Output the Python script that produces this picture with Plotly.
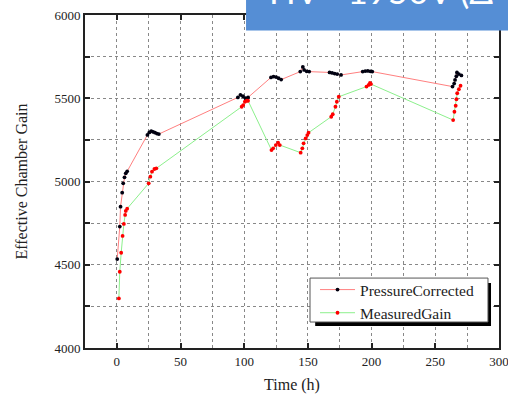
import plotly.graph_objects as go

# ---- data ----
t_corr = [0.3, 2.3, 2.9, 4.2, 5.0, 6.0, 7.0, 8.1,
          24, 25.5, 27, 28.5, 30, 31.5, 33,
          95, 97, 99, 101, 103,
          121, 123, 125, 127, 129,
          144, 146, 147, 149, 151,
          167, 169, 171, 173, 176,
          193, 195, 197, 199, 200.5,
          263.5, 264.8, 265.5, 266.5, 267, 268.5, 270.5]
g_corr = [4534, 4729, 4849, 4933, 4989, 5025, 5049, 5061,
          5280, 5295, 5303, 5298, 5293, 5288, 5285,
          5505, 5520, 5512, 5500, 5505,
          5625, 5630, 5627, 5620, 5612,
          5660, 5688, 5670, 5662, 5660,
          5655, 5652, 5648, 5645, 5640,
          5660, 5663, 5664, 5662, 5660,
          5570, 5588, 5610, 5632, 5655, 5645, 5637]

t_meas = [1.6, 2.3, 3.4, 4.5, 5.5, 6.5, 7.0, 8.1,
          25, 26.3, 27.6, 29.5, 31,
          98, 99.2, 100.5, 101.9, 103,
          121.4, 122.7, 124.8, 126.6, 127.9,
          144.3, 145.6, 146.6, 148.2, 149.5, 150.5,
          168.3, 169.5, 171.6, 172.7, 174.2,
          196, 197.7, 198.7, 199.5,
          264, 265, 266, 266.6, 267.2, 268.5, 269.8]
g_meas = [4298, 4458, 4572, 4673, 4745, 4799, 4823, 4837,
          4989, 5029, 5059, 5075, 5079,
          5449, 5459, 5479, 5485, 5485,
          5189, 5199, 5219, 5233, 5219,
          5173, 5199, 5229, 5259, 5279, 5293,
          5389, 5404, 5449, 5479, 5509,
          5570, 5580, 5592, 5585,
          5369, 5419, 5455, 5494, 5530, 5554, 5575]

x_tick_vals = [0, 50, 100, 150, 200, 250, 300]
y_tick_vals = [4000, 4500, 5000, 5500, 6000]
title_text = "HV =1950V (Δ"

serif = "Liberation Serif, Times New Roman, serif"

fig = go.Figure()
fig.add_trace(go.Scatter(
    x=t_corr, y=g_corr, mode="lines+markers", name="PressureCorrected",
    line=dict(color="#ff8080", width=1),
    marker=dict(color="#000010", size=3.8)))
fig.add_trace(go.Scatter(
    x=t_meas, y=g_meas, mode="lines+markers", name="MeasuredGain",
    line=dict(color="#8cf08c", width=1),
    marker=dict(color="#ff0000", size=3.8)))

axis_common = dict(
    showline=True, linecolor="#222", linewidth=2, mirror="ticks",
    ticks="inside", ticklen=5, tickcolor="#222", tickwidth=1.5,
    showgrid=True, gridcolor="#888", griddash="dot", gridwidth=1,
    zeroline=False, automargin=False, ticklabeloverflow="allow",
    tickfont=dict(family=serif, size=13, color="#222"),
)

fig.update_xaxes(
    range=[-25, 300], tickmode="array", tickvals=x_tick_vals,
    title=dict(text="Time (h)", font=dict(family=serif, size=16, color="#222"), standoff=14),
    minor=dict(dtick=25, tick0=0, showgrid=True, gridcolor="#888", griddash="dot", ticks=""),
    **axis_common)
fig.update_yaxes(
    range=[4000, 6000], tickmode="array", tickvals=y_tick_vals,
    title=dict(text="Effective Chamber Gain", font=dict(family=serif, size=16, color="#222"), standoff=23),
    minor=dict(dtick=250, tick0=4000, showgrid=True, gridcolor="#888", griddash="dot",
               ticks="inside", ticklen=5, tickcolor="#222"),
    **axis_common)

fig.update_layout(
    width=508, height=394,
    margin=dict(l=85, r=9, t=15, b=46, autoexpand=False),
    paper_bgcolor="white", plot_bgcolor="white",
    showlegend=True,
    legend=dict(
        x=0.5556, y=0.2252, xanchor="left", yanchor="top",
        bgcolor="rgba(0,0,0,0)", borderwidth=0,
        font=dict(family=serif, size=15.5, color="#222"),
        tracegroupgap=0, itemwidth=35,
    ),
    shapes=[
        # legend shadow
        dict(type="rect", xref="paper", yref="paper",
             x0=0.556, x1=0.9807, y0=0.066, y1=0.195,
             fillcolor="black", line=dict(width=0), layer="above"),
        # legend box
        dict(type="rect", xref="paper", yref="paper",
             x0=0.5435, x1=0.9734, y0=0.078, y1=0.210,
             fillcolor="white", line=dict(color="#555", width=1), layer="above"),
        # title banner
        dict(type="rect", xref="paper", yref="paper",
             x0=0.389, x1=1.05, y0=0.9535, y1=1.08,
             fillcolor="#558ed5", line=dict(width=0), layer="above"),
    ],
    annotations=[
        dict(text=title_text, xref="paper", yref="paper",
             x=0.44, y=1.074, xanchor="left", yanchor="middle",
             showarrow=False,
             font=dict(family="Lato, Open Sans, sans-serif", size=35, color="white")),
    ],
)

fig.write_html("out.html", config={"displayModeBar": False},
               post_script="document.body.style.margin='0px';")
